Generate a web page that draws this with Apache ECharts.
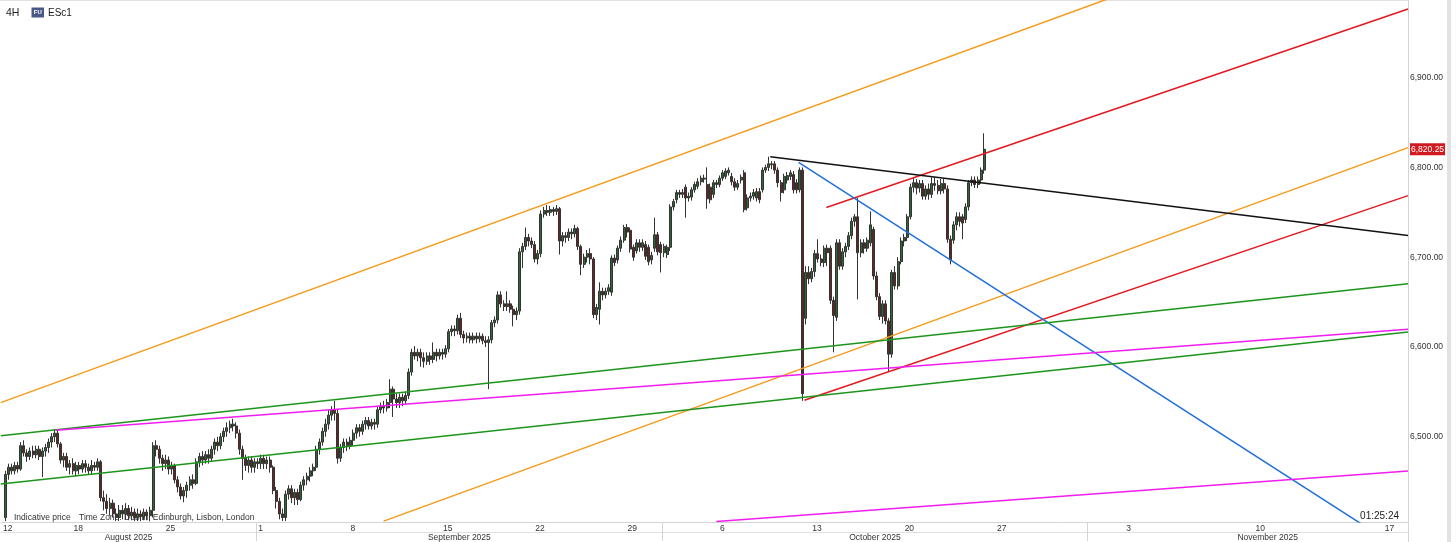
<!DOCTYPE html>
<html><head><meta charset="utf-8">
<script src="https://cdn.jsdelivr.net/npm/echarts@6/dist/echarts.min.js"></script>
<style>html,body{margin:0;padding:0;background:#fff}#c{width:1456px;height:542px}</style>
</head><body><div id="c"></div>
<script>
// ================= DATA =================
// 4H candles, ESc1, one per bar from 12 Aug 2025: [open, close, low, high]
const candles = [
[6410,6458,6406,6462],[6458,6466,6452,6470],[6466,6462,6458,6470],[6462,6468,6458,6472],[6468,6464,6460,6472],
[6464,6490,6462,6494],[6490,6482,6478,6496],[6482,6478,6472,6486],[6478,6484,6474,6488],[6484,6480,6476,6490],
[6480,6486,6476,6490],[6486,6478,6474,6490],[6478,6484,6455,6488],[6484,6488,6478,6492],[6488,6494,6482,6498],
[6494,6500,6488,6504],[6500,6504,6494,6508],[6504,6492,6488,6508],[6492,6474,6470,6494],[6474,6478,6466,6482],
[6478,6466,6462,6482],[6466,6470,6458,6474],[6470,6462,6458,6476],[6462,6468,6456,6472],[6468,6464,6458,6472],
[6464,6470,6460,6474],[6470,6466,6460,6474],[6466,6462,6458,6470],[6462,6468,6458,6474],[6468,6466,6462,6472],
[6466,6472,6462,6476],[6472,6432,6428,6474],[6432,6428,6418,6440],[6428,6420,6414,6436],[6420,6426,6412,6432],
[6426,6414,6410,6430],[6414,6410,6406,6420],[6410,6418,6406,6424],[6418,6414,6408,6424],[6414,6420,6408,6426],
[6420,6412,6407,6424],[6412,6416,6407,6422],[6416,6410,6406,6420],[6410,6414,6406,6420],[6414,6411,6406,6418],
[6411,6416,6407,6420],[6416,6412,6407,6419],[6412,6418,6406,6422],[6418,6490,6410,6494],[6490,6486,6478,6496],
[6486,6476,6470,6490],[6476,6470,6462,6480],[6470,6474,6464,6480],[6474,6464,6458,6478],[6464,6468,6458,6472],
[6468,6452,6448,6470],[6452,6444,6438,6456],[6444,6434,6430,6448],[6434,6440,6427,6444],[6440,6446,6432,6450],
[6446,6452,6440,6456],[6452,6448,6442,6458],[6448,6472,6446,6476],[6472,6478,6466,6482],[6478,6474,6468,6484],
[6474,6480,6470,6484],[6480,6476,6470,6486],[6476,6486,6472,6490],[6486,6494,6480,6498],[6494,6490,6484,6500],
[6490,6500,6486,6504],[6500,6506,6494,6510],[6506,6510,6500,6516],[6510,6514,6504,6518],[6514,6512,6506,6520],
[6512,6504,6498,6516],[6504,6486,6480,6508],[6486,6476,6452,6490],[6476,6468,6462,6480],[6468,6474,6460,6478],
[6474,6466,6460,6478],[6466,6472,6460,6476],[6472,6470,6464,6476],[6470,6476,6464,6480],[6476,6470,6464,6480],
[6470,6474,6464,6478],[6474,6466,6460,6478],[6466,6440,6436,6468],[6440,6428,6420,6444],[6428,6414,6408,6432],
[6414,6410,6406,6420],[6410,6436,6406,6440],[6436,6442,6430,6446],[6442,6432,6426,6446],[6432,6438,6424,6442],
[6438,6430,6424,6442],[6430,6446,6428,6450],[6446,6452,6440,6456],[6452,6456,6446,6460],[6456,6462,6450,6466],
[6462,6466,6456,6470],[6466,6486,6462,6490],[6486,6494,6480,6498],[6494,6506,6490,6510],[6506,6514,6500,6520],
[6514,6524,6508,6530],[6524,6530,6518,6534],[6530,6526,6518,6540],[6526,6476,6470,6530],[6476,6488,6472,6492],
[6488,6494,6482,6498],[6494,6490,6484,6498],[6490,6496,6486,6500],[6496,6504,6490,6508],[6504,6510,6498,6514],
[6510,6506,6500,6514],[6506,6514,6502,6518],[6514,6518,6508,6522],[6518,6512,6508,6522],[6512,6516,6508,6520],
[6516,6514,6508,6520],[6514,6530,6510,6534],[6530,6534,6526,6538],[6534,6532,6526,6540],[6532,6538,6528,6542],
[6538,6553,6532,6564],[6553,6542,6522,6556],[6542,6538,6532,6548],[6538,6544,6532,6548],[6544,6540,6534,6548],
[6540,6546,6536,6550],[6546,6572,6542,6576],[6572,6594,6568,6598],[6594,6590,6586,6601],[6590,6594,6584,6598],
[6594,6588,6578,6598],[6588,6584,6577,6594],[6584,6590,6580,6594],[6590,6586,6580,6594],[6586,6594,6582,6605],
[6594,6590,6584,6598],[6590,6594,6586,6598],[6594,6592,6586,6598],[6592,6598,6588,6602],[6598,6617,6594,6620],
[6617,6620,6612,6624],[6620,6618,6612,6624],[6618,6632,6614,6636],[6632,6614,6610,6638],[6614,6610,6604,6618],
[6610,6612,6605,6616],[6612,6608,6604,6616],[6608,6612,6604,6616],[6612,6609,6604,6616],[6609,6612,6605,6616],
[6612,6607,6603,6615],[6607,6605,6600,6612],[6605,6608,6553,6612],[6608,6627,6604,6630],[6627,6630,6622,6634],
[6630,6658,6626,6662],[6658,6648,6644,6662],[6648,6645,6640,6652],[6645,6648,6640,6662],[6648,6642,6638,6652],
[6642,6636,6623,6646],[6636,6640,6630,6644],[6640,6706,6636,6710],[6706,6712,6688,6716],[6712,6722,6708,6733],
[6722,6718,6712,6726],[6718,6714,6710,6722],[6714,6698,6694,6718],[6698,6704,6692,6708],[6704,6748,6700,6752],
[6748,6752,6744,6756],[6752,6750,6746,6758],[6750,6753,6746,6757],[6753,6751,6746,6756],[6751,6754,6747,6758],
[6754,6718,6703,6756],[6718,6724,6712,6728],[6724,6722,6716,6728],[6722,6728,6718,6732],[6728,6726,6720,6732],
[6726,6732,6722,6736],[6732,6712,6708,6734],[6712,6692,6680,6714],[6692,6700,6688,6704],[6700,6704,6694,6708],
[6704,6698,6692,6710],[6698,6636,6632,6700],[6636,6644,6630,6648],[6642,6662,6625,6672],[6662,6658,6652,6666],
[6658,6662,6654,6666],[6662,6666,6658,6670],[6661,6699,6657,6702],[6699,6694,6690,6703],[6697,6710,6693,6713],
[6710,6719,6706,6723],[6719,6733,6716,6736],[6733,6728,6722,6737],[6730,6709,6705,6733],[6711,6700,6696,6714],
[6707,6716,6704,6720],[6716,6711,6706,6720],[6711,6716,6707,6720],[6714,6701,6697,6718],[6711,6695,6691,6714],
[6697,6702,6692,6706],[6710,6725,6706,6744],[6725,6706,6702,6728],[6714,6705,6683,6717],[6705,6712,6700,6715],
[6703,6711,6699,6714],[6711,6756,6707,6759],[6756,6762,6752,6765],[6764,6772,6760,6775],[6772,6770,6766,6775],
[6770,6772,6766,6776],[6778,6766,6744,6781],[6766,6768,6762,6772],[6767,6775,6763,6778],[6775,6781,6772,6784],
[6779,6784,6776,6788],[6784,6788,6780,6791],[6788,6787,6783,6792],[6781,6765,6754,6800],[6778,6764,6760,6782],
[6770,6783,6766,6786],[6783,6781,6777,6786],[6781,6788,6778,6791],[6788,6794,6785,6797],[6790,6796,6787,6799],
[6794,6797,6791,6800],[6790,6784,6780,6794],[6784,6778,6774,6788],[6778,6782,6775,6786],[6786,6789,6782,6792],
[6794,6753,6750,6797],[6755,6766,6752,6770],[6766,6768,6762,6772],[6768,6772,6764,6776],[6766,6773,6762,6777],
[6773,6764,6760,6777],[6775,6797,6772,6800],[6797,6800,6794,6803],[6800,6804,6796,6812],[6804,6803,6798,6807],
[6804,6797,6793,6807],[6797,6783,6778,6800],[6783,6772,6762,6786],[6775,6790,6771,6793],[6786,6791,6782,6795],
[6790,6794,6786,6797],[6792,6775,6771,6796],[6783,6775,6771,6787],[6775,6797,6772,6800],[6797,6548,6540,6800],
[6632,6683,6625,6690],[6683,6676,6670,6690],[6676,6684,6672,6688],[6684,6704,6678,6708],[6704,6698,6694,6720],
[6698,6694,6690,6703],[6694,6710,6689,6713],[6710,6705,6690,6714],[6710,6652,6648,6713],[6652,6635,6594,6656],
[6633,6716,6629,6720],[6716,6690,6686,6720],[6690,6706,6686,6710],[6706,6712,6700,6716],[6712,6724,6708,6728],
[6724,6740,6720,6744],[6740,6745,6734,6748],[6745,6705,6653,6766],[6705,6716,6700,6720],[6716,6710,6704,6720],
[6710,6719,6706,6722],[6716,6736,6712,6751],[6731,6679,6675,6734],[6679,6656,6652,6684],[6656,6634,6630,6660],
[6634,6648,6626,6652],[6648,6629,6625,6652],[6629,6592,6572,6632],[6592,6683,6588,6686],[6683,6668,6664,6690],
[6668,6695,6664,6700],[6695,6718,6692,6722],[6718,6722,6712,6726],[6722,6745,6718,6748],[6745,6778,6742,6782],
[6778,6783,6772,6788],[6783,6777,6770,6787],[6777,6782,6772,6786],[6782,6768,6764,6786],[6768,6776,6764,6780],
[6776,6770,6764,6782],[6770,6782,6766,6789],[6782,6780,6774,6789],[6780,6774,6770,6786],[6774,6782,6770,6787],
[6782,6776,6771,6787],[6776,6720,6716,6780],[6720,6697,6692,6724],[6719,6736,6715,6740],[6736,6745,6730,6750],
[6745,6740,6734,6750],[6745,6738,6720,6748],[6742,6756,6738,6760],[6756,6783,6752,6786],[6783,6786,6779,6790],
[6786,6781,6777,6790],[6781,6786,6777,6790],[6786,6797,6782,6800],[6797,6820.25,6793,6838]
];
const lastPrice = 6820.25;
const priceTicks = [6500, 6600, 6700, 6800, 6900];

// Session calendar: bar index where the 18 Aug 2025 week starts; 6 four-hour bars per day.
const firstMondayBar = 22;
const barsPerDay = 6;
const projectionStart = [2025, 10, 27]; // from here on the axis projects every calendar day
const dayTicks = [[2025,8,12],[2025,8,18],[2025,8,25],[2025,9,1],[2025,9,8],[2025,9,15],[2025,9,22],
  [2025,9,29],[2025,10,6],[2025,10,13],[2025,10,20],[2025,10,27],[2025,11,3],[2025,11,10],[2025,11,17]];
const monthStarts = [[2025,8,1],[2025,9,1],[2025,10,1],[2025,11,1],[2025,12,1]];
const monthNames = ['August 2025','September 2025','October 2025','November 2025'];

// Drawn trend lines: [bar1, price1, bar2, price2]
const trendOrangeUpper = [-1.5, 6538, 400, 7040];
const trendOrangeLower = [122.9, 6406, 455.7, 6822];
const trendRedUpper = [266.7, 6755.3, 455.7, 6976.5];
const trendRedLower = [259.6, 6540.7, 455.7, 6768.6];
const trendBlack = [248.5, 6812, 455.7, 6724.1];
const trendBlue = [257.7, 6805.6, 450, 6382];
const trendGreenUpper = [-1.5, 6501, 455.7, 6670.4];
const trendGreenLower = [-1.5, 6447.3, 455.7, 6616.6];
const trendMagentaUpper = [16.4, 6507.3, 455.7, 6619.6];
const trendMagentaLower = [231, 6405.5, 455.7, 6461.7];

// ================= LAYOUT / LOGIC =================
const DAY = 864e5;
const refT = Date.UTC(2025, 7, 18);
const projT = Date.UTC(projectionStart[0], projectionStart[1]-1, projectionStart[2]);
function weekdaysBetween(a, b) {
  let n = 0;
  if (b >= a) { for (let t = a; t < b; t += DAY) { const w = new Date(t).getUTCDay(); if (w > 0 && w < 6) n++; } }
  else { for (let t = b; t < a; t += DAY) { const w = new Date(t).getUTCDay(); if (w > 0 && w < 6) n--; } }
  return n;
}
function barOf(y, m, d) {
  const t = Date.UTC(y, m-1, d);
  if (t <= projT) return firstMondayBar + weekdaysBetween(refT, t) * barsPerDay;
  return firstMondayBar + weekdaysBetween(refT, projT) * barsPerDay + Math.round((t - projT) / DAY) * barsPerDay;
}
const FONT = '"Liberation Sans", Arial, sans-serif';
const xMin = -1.461, xMax = 455.68;
const pxPerBar = 1408 / (xMax - xMin);
const axisColumnBars = 40 / pxPerBar;

const dayMap = {};
const dayVals = dayTicks.map(([y,m,d]) => {
  let v = barOf(y,m,d) - 0.5;
  if (v < xMin) v = xMin + 0.05;
  dayMap[v.toFixed(3)] = String(d);
  return v;
});
const monthBounds = monthStarts.map(([y,m,d]) => barOf(y,m,d) - 0.5);
const sepVals = monthBounds.filter(v => v > xMin && v < xMax);
const monthMap = {};
const monthVals = monthNames.map((n, i) => {
  const a = Math.max(monthBounds[i], xMin);
  const b = Math.min(monthBounds[i+1], xMax + axisColumnBars);
  const c = (a + b) / 2;
  monthMap[c.toFixed(3)] = n;
  return c;
});

const fmt = v => v.toLocaleString('en-US', {minimumFractionDigits: 2, maximumFractionDigits: 2});

const candleData = candles.map((c, i) => [i, c[0], c[1], c[2], c[3]]);

function tl(arr, color) {
  return {
    type: 'line', data: [[arr[0], arr[1]], [arr[2], arr[3]]], symbol: 'none', silent: true,
    clip: true, z: 5, animation: false, lineStyle: {color, width: 1.5}
  };
}

const chart = echarts.init(document.getElementById('c'), null, {renderer: 'canvas'});
chart.setOption({
  animation: false,
  backgroundColor: '#fff',
  grid: {left: 0, right: 48, top: 0, bottom: 19, show: false},
  xAxis: [
    {type: 'value', min: xMin, max: xMax, position: 'bottom',
      axisLine: {show: true, onZero: false, lineStyle: {color: '#d4d4d4', width: 1}},
      axisTick: {show: true, customValues: sepVals, length: 10, lineStyle: {color: '#d4d4d4'}},
      axisLabel: {show: true, customValues: dayVals, formatter: v => dayMap[v.toFixed(3)] || '',
        align: 'left', margin: 2, padding: [0,0,0,2], fontSize: 8.5, color: '#333', fontFamily: FONT},
      splitLine: {show: false}},
    {type: 'value', min: xMin, max: xMax, position: 'bottom', offset: 10,
      axisLine: {show: true, onZero: false, lineStyle: {color: '#e0e0e0', width: 1}},
      axisTick: {show: true, customValues: sepVals, length: 9, lineStyle: {color: '#d4d4d4'}},
      axisLabel: {show: true, customValues: monthVals, formatter: v => monthMap[v.toFixed(3)] || '',
        align: 'center', margin: 1, fontSize: 8.5, color: '#333', fontFamily: FONT},
      splitLine: {show: false}}
  ],
  yAxis: {type: 'value', position: 'right', min: 6405, max: 6986.5, scale: true,
    axisLine: {show: true, onZero: false, lineStyle: {color: '#d4d4d4'}},
    axisTick: {show: false}, splitLine: {show: false},
    axisLabel: {customValues: priceTicks, formatter: v => fmt(v), margin: 2, fontSize: 8.5, color: '#333', fontFamily: FONT}},
  graphic: [
    {type: 'line', z: 0, shape: {x1: 0, y1: 0.5, x2: 1408, y2: 0.5}, style: {stroke: '#e2e2e2', lineWidth: 1}},
    {type: 'line', z: 0, shape: {x1: 1408.5, y1: 523, x2: 1408.5, y2: 542}, style: {stroke: '#d4d4d4', lineWidth: 1}},
    {type: 'rect', z: 0, shape: {x: 1447, y: 0, width: 4, height: 542}, style: {fill: '#e2e2e2'}},
    {type: 'text', z: 0, x: 6, y: 13, style: {text: '4H', font: '10.5px ' + FONT, fill: '#222', verticalAlign: 'middle'}},
    {type: 'rect', z: 0, shape: {x: 31.5, y: 7.5, width: 12.5, height: 10}, style: {fill: '#4a5886'}},
    {type: 'text', z: 1, x: 37.8, y: 12.7, style: {text: 'FU', font: 'bold 6px ' + FONT, fill: '#fff', align: 'center', verticalAlign: 'middle'}},
    {type: 'text', z: 0, x: 48, y: 13, style: {text: 'ESc1', font: '10px ' + FONT, fill: '#222', verticalAlign: 'middle'}},
    {type: 'text', z: 0, x: 14, y: 517.5, style: {text: 'Indicative price', font: '8.5px ' + FONT, fill: '#333', verticalAlign: 'middle'}},
    {type: 'text', z: 0, x: 79, y: 517.5, style: {text: 'Time Zone: Dublin, Edinburgh, Lisbon, London', font: '8.5px ' + FONT, fill: '#333', verticalAlign: 'middle'}},
    {type: 'text', z: 10, x: 1399, y: 516, style: {text: '01:25:24', font: '10px ' + FONT, fill: '#222', align: 'right', verticalAlign: 'middle'}}
  ],
  series: [
    {type: 'candlestick', data: candleData, encode: {x: 0, y: [1,2,3,4]}, barWidth: 2.5, z: 3,
      itemStyle: {color: '#2d6a33', color0: '#6a2222', borderColor: '#333333', borderColor0: '#333333', borderWidth: 1},
      markLine: {silent: true, symbol: 'none', animation: false,
        lineStyle: {color: 'rgba(0,0,0,0)', width: 1},
        label: {show: true, position: 'end', distance: 2, formatter: fmt(lastPrice), backgroundColor: '#d11a20',
          color: '#fff', fontSize: 8.5, fontFamily: FONT, padding: [2, 1, 1, 1]},
        data: [{yAxis: lastPrice}]}},
    tl(trendOrangeUpper, '#f59a1b'),
    tl(trendOrangeLower, '#f59a1b'),
    tl(trendRedUpper, '#e3191f'),
    tl(trendRedLower, '#e3191f'),
    tl(trendBlack, '#111111'),
    tl(trendBlue, '#1f6fd6'),
    tl(trendGreenUpper, '#1d951d'),
    tl(trendGreenLower, '#1d951d'),
    tl(trendMagentaUpper, '#f01cf0'),
    tl(trendMagentaLower, '#f01cf0')
  ]
});
</script></body></html>
